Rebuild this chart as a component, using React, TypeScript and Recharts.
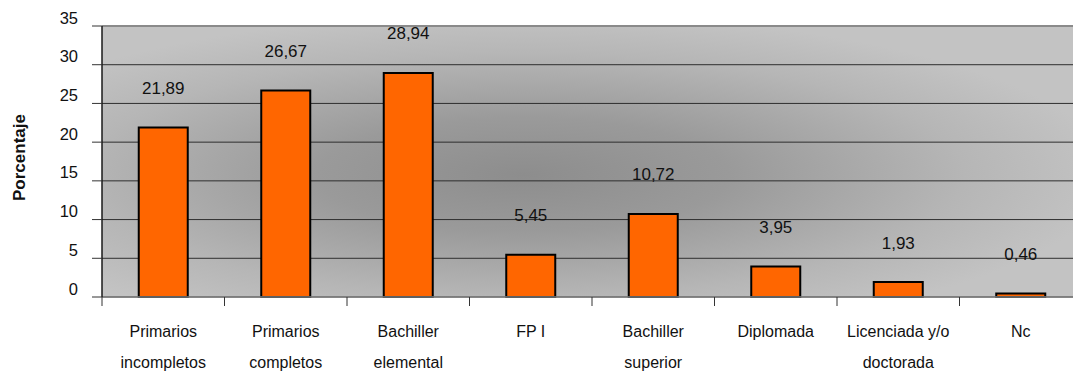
import React from 'react';
import { BarChart, Bar, XAxis, YAxis, CartesianGrid, LabelList, ReferenceLine } from 'recharts';

const categories = [
  'Primarios\nincompletos',
  'Primarios\ncompletos',
  'Bachiller\nelemental',
  'FP I',
  'Bachiller\nsuperior',
  'Diplomada',
  'Licenciada y/o\ndoctorada',
  'Nc',
];
const values = [21.89, 26.67, 28.94, 5.45, 10.72, 3.95, 1.93, 0.46];
const yTicks = [0, 5, 10, 15, 20, 25, 30, 35];
const yLabel = 'Porcentaje';

const data = categories.map((name, i) => ({ name, value: values[i] }));

const FONT = '"Liberation Sans", Arial, Helvetica, sans-serif';
const fmt = (v: number) => v.toFixed(2).replace('.', ',');

const XTick = (props: any) => {
  const { x, y, payload, index, visibleTicksCount } = props;
  const lines = String(payload.value).split('\n');
  const half = Number(payload.offset) || 0;
  const isLast = index === (visibleTicksCount ?? categories.length) - 1;
  return (
    <g>
      {half > 0 && <line x1={x - half} x2={x - half} y1={y} y2={y + 9} stroke="#333333" strokeWidth={1} />}
      {half > 0 && isLast && <line x1={x + half} x2={x + half} y1={y} y2={y + 9} stroke="#333333" strokeWidth={1} />}
      <text x={x} y={y} textAnchor="middle" fontFamily={FONT} fontSize={16} fill="#111">
        {lines.map((l, i) => (
          <tspan key={i} x={x} dy={i === 0 ? 39.5 : 31.5}>
            {l}
          </tspan>
        ))}
      </text>
    </g>
  );
};

const YTick = (props: any) => {
  const { x, y, payload } = props;
  return (
    <text x={x} y={y - 2.5} textAnchor="end" fontFamily={FONT} fontSize={16.5} fill="#111">
      {payload.value}
    </text>
  );
};

const ValueLabel = (props: any) => {
  const { x, y, width, value } = props;
  return (
    <text x={x + width / 2} y={y - 33.5} textAnchor="middle" fontFamily={FONT} fontSize={17} fill="#111">
      {fmt(Number(value))}
    </text>
  );
};

export default function App() {
  return (
    <div
      style={{
        position: 'fixed',
        left: 0,
        top: 0,
        width: 1073,
        height: 374,
        overflow: 'hidden',
        background: '#ffffff',
      }}
    >
      <BarChart
        width={1100}
        height={374}
        data={data}
        margin={{ top: 26, right: 18, left: 0, bottom: 0 }}
        barCategoryGap="30%"
      >
        <defs>
          <radialGradient id="plotBg" cx="0.43" cy="0.55" r="0.6" fx="0.43" fy="0.55">
            <stop offset="0" stopColor="#8d8d8d" />
            <stop offset="0.35" stopColor="#9a9a9a" />
            <stop offset="0.75" stopColor="#b6b6b6" />
            <stop offset="1" stopColor="#c3c3c3" />
          </radialGradient>
        </defs>
        <CartesianGrid vertical={false} stroke="#2e2e2e" strokeWidth={1} fill="url(#plotBg)" fillOpacity={1} />
        <XAxis
          dataKey="name"
          height={77}
          axisLine={{ stroke: '#808080', strokeWidth: 1.5 }}
          tickLine={false}
          tickSize={0}
          tickMargin={0}
          interval={0}
          tick={<XTick />}
        />
        <YAxis
          width={102}
          domain={[0, 35]}
          ticks={yTicks}
          interval={0}
          tickSize={10}
          tickMargin={14}
          axisLine={{ stroke: '#1a1a1a', strokeWidth: 1.5 }}
          tickLine={{ stroke: '#333333' }}
          tick={<YTick />}
          label={{
            value: yLabel,
            angle: -90,
            position: 'insideLeft',
            offset: 19,
            dy: -4,
            style: { fontFamily: FONT, fontSize: 17, fontWeight: 'bold', fill: '#111', textAnchor: 'middle' },
          }}
        />
        <ReferenceLine y={35} stroke="#8a8a8a" strokeWidth={2} />
        <Bar dataKey="value" fill="#ff6600" stroke="#000000" strokeWidth={2} isAnimationActive={false}>
          <LabelList dataKey="value" content={<ValueLabel />} />
        </Bar>
      </BarChart>
    </div>
  );
}
